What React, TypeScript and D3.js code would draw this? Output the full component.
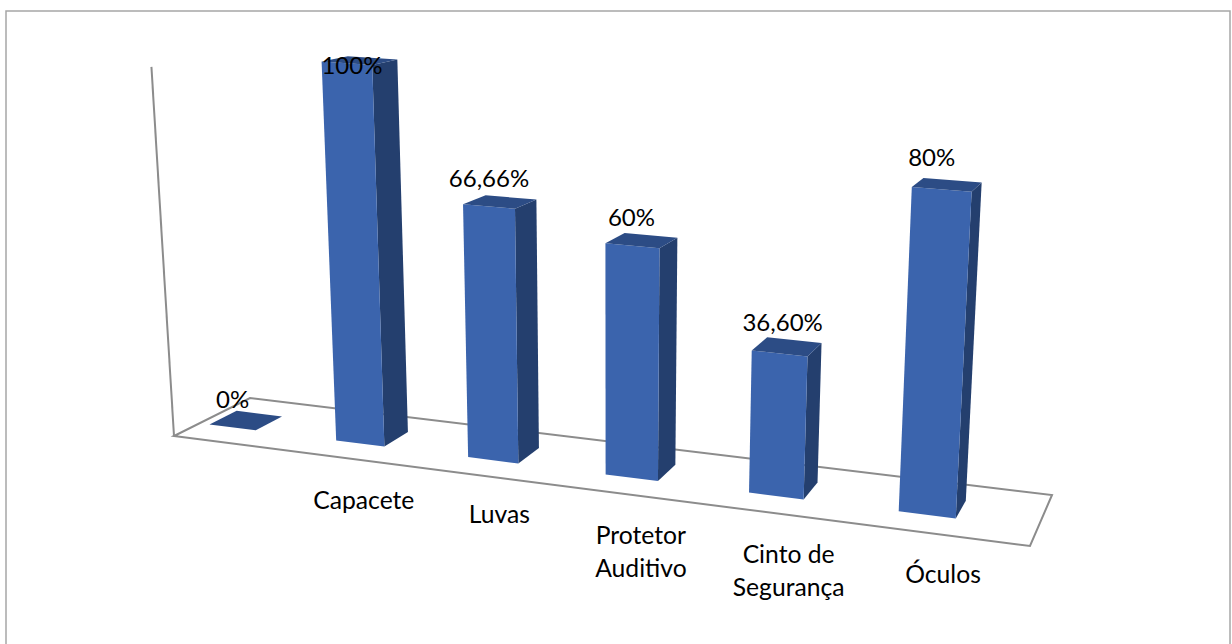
import * as d3 from 'd3';

const categories = ['', 'Capacete', 'Luvas', 'Protetor Auditivo', 'Cinto de Segurança', 'Óculos'];
const categoryLines = [[], ['Capacete'], ['Luvas'], ['Protetor', 'Auditivo'], ['Cinto de', 'Segurança'], ['Óculos']];
const values = [0, 100, 66.66, 60, 36.6, 80];
const valueLabels = ['0%', '100%', '66,66%', '60%', '36,60%', '80%'];

const WIDTH = 1232;
const HEIGHT = 644;
const FONT = 'Lato, "Open Sans", sans-serif';

const FRONT_COLOR = '#3b64ad';
const SIDE_COLOR = '#243f6e';
const TOP_COLOR = '#2c4c85';
const LINE_COLOR = '#8c8c8c';

type Pt = [number, number];

// floor corners of the 3d box, as they land on the page
const floorFL: Pt = [174, 436];
const floorFR: Pt = [1030, 546];
const floorBR: Pt = [1052, 495];
const floorBL: Pt = [250, 398];
// verticals converge on this point far below the chart
const vanish: Pt = [612, 7600];

function makeProjection(p0: Pt, p1: Pt, p2: Pt, p3: Pt, vp: Pt) {
  const dx1 = p1[0] - p2[0];
  const dx2 = p3[0] - p2[0];
  const sx = p0[0] - p1[0] + p2[0] - p3[0];
  const dy1 = p1[1] - p2[1];
  const dy2 = p3[1] - p2[1];
  const sy = p0[1] - p1[1] + p2[1] - p3[1];
  const den = dx1 * dy2 - dx2 * dy1;
  const g = (sx * dy2 - dx2 * sy) / den;
  const h = (dx1 * sy - sx * dy1) / den;
  const a = p1[0] - p0[0] + g * p1[0];
  const b = p3[0] - p0[0] + h * p3[0];
  const d = p1[1] - p0[1] + g * p1[1];
  const e = p3[1] - p0[1] + h * p3[1];
  return (u: number, v: number, k: number): Pt => {
    const w = g * u + h * v + 1 + k;
    return [
      (a * u + b * v + p0[0] + vp[0] * k) / w,
      (d * u + e * v + p0[1] + vp[1] * k) / w,
    ];
  };
}

const project = makeProjection(floorFL, floorFR, floorBR, floorBL, vanish);

const x = d3.scaleBand<string>().domain(categories).range([-0.0367, 0.9633]).paddingInner(0.63).paddingOuter(0.3);
const depth = d3.scaleBand<string>().domain(['valores']).range([0, 1]).padding(0.47);
const y = d3.scaleLinear().domain([0, 100]).range([0, -0.0503]);

const line = d3.line<Pt>();
const face = (pts: Pt[]) => `${line(pts)}Z`;

const axisTop = project(0, 0, -0.049);
const valueNudgeX = [0, 5, 0, -1, 3, -10];
const valueNudgeY = [0, 0, 0, 0, -3, -4];
const categoryNudgeY = [0, 0, -3, 0, 0, 0];

export default function App() {
  const v0 = depth('valores') as number;
  const v1 = v0 + depth.bandwidth();

  return (
    <svg width={WIDTH} height={HEIGHT} style={{ position: 'fixed', left: 0, top: 0, background: '#fff' }}>
      <rect x={6} y={11} width={1224} height={700} fill="none" stroke="#a6a6a6" strokeWidth={1.5} />

      <g fill="none" stroke={LINE_COLOR} strokeWidth={2}>
        <path d={face([floorFL, floorFR, floorBR, floorBL])} />
        <path d={line([floorFL, axisTop]) as string} />
      </g>

      {categories.map((c, i) => {
        const u0 = x(c) as number;
        const u1 = u0 + x.bandwidth();
        const z = y(values[i]);
        return (
          <g key={i}>
            {values[i] > 0 && (
              <>
                <path fill={SIDE_COLOR} d={face([project(u1, v0, 0), project(u1, v1, 0), project(u1, v1, z), project(u1, v0, z)])} />
                <path fill={FRONT_COLOR} d={face([project(u0, v0, 0), project(u1, v0, 0), project(u1, v0, z), project(u0, v0, z)])} />
              </>
            )}
            <path fill={TOP_COLOR} d={face([project(u0, v0, z), project(u1, v0, z), project(u1, v1, z), project(u0, v1, z)])} />
          </g>
        );
      })}

      <g fontFamily={FONT} fill="#000" textAnchor="middle">
        {categories.map((c, i) => {
          const u0 = x(c) as number;
          const u1 = u0 + x.bandwidth();
          const z = y(values[i]);
          const a = project(u0, v0, z);
          const b = project(u1, v0, z);
          // labels that would leave the plot stick to its top
          const ly = Math.max((a[1] + b[1]) / 2 - 28, 66) + valueNudgeY[i];
          return (
            <text key={i} x={(a[0] + b[0]) / 2 + valueNudgeX[i]} y={ly} dy="0.35em" fontSize={24}>
              {valueLabels[i]}
            </text>
          );
        })}
        {categories.map((c, i) => {
          const p = project((x(c) as number) + x.bandwidth() / 2, 0, 0);
          const cx = p[0] + 26;
          return (
            <text key={i} x={cx} y={p[1] + 43 + categoryNudgeY[i]} fontSize={24.7}>
              {categoryLines[i].map((t, j) => (
                <tspan key={j} x={cx} dy={j === 0 ? '0.35em' : 32.5}>{t}</tspan>
              ))}
            </text>
          );
        })}
      </g>
    </svg>
  );
}
